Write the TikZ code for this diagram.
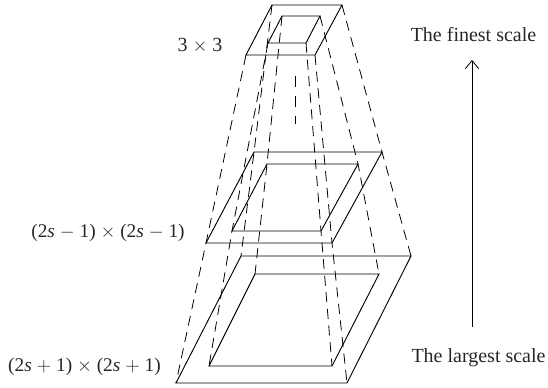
\documentclass[tikz,border=0pt]{standalone}
\usepackage{amsmath}
\usepackage{fontspec}
\setmainfont{Liberation Serif}
\usetikzlibrary{arrows.meta,positioning,calc}
\tikzset{
  frame/.style={draw, line width=0.7pt, line join=miter},
  link/.style={draw, line width=0.6pt, dash pattern=on 7.5pt off 5pt},
  scalelabel/.style={font=\fontsize{15}{17}\selectfont, text=black!85, inner sep=0pt},
  sizelabel/.style={scalelabel, font=\fontsize{14.5}{17}\selectfont}
}
\begin{document}
\begin{tikzpicture}[x=0.75pt, y=-0.75pt]
        \useasboundingbox (0,0) rectangle (548,387);

        % Top level
        \coordinate (topOutTL) at (272,5);
        \coordinate (topOutTR) at (342,5);
        \coordinate (topOutBR) at (315,55);
        \coordinate (topOutBL) at (246,55);
        \coordinate (topInTL) at (282,16);
        \coordinate (topInTR) at (320,16);
        \coordinate (topInBR) at (306,43);
        \coordinate (topInBL) at (268,43);
        \draw[frame] (topOutTL) -- (topOutTR) -- (topOutBR) -- (topOutBL) -- cycle;
        \draw[frame] (topInTL) -- (topInTR) -- (topInBR) -- (topInBL) -- cycle;

        % Middle level
        \coordinate (midOutTL) at (254,152);
        \coordinate (midOutTR) at (382,152);
        \coordinate (midOutBR) at (332,243);
        \coordinate (midOutBL) at (206,243);
        \coordinate (midInTL) at (267,164);
        \coordinate (midInTR) at (358,164);
        \coordinate (midInBR) at (321,231);
        \coordinate (midInBL) at (232,231);
        \draw[frame] (midOutTL) -- (midOutTR) -- (midOutBR) -- (midOutBL) -- cycle;
        \draw[frame] (midInTL) -- (midInTR) -- (midInBR) -- (midInBL) -- cycle;

        % Bottom level
        \coordinate (lowOutTL) at (241,256);
        \coordinate (lowOutTR) at (411,256);
        \coordinate (lowOutBR) at (347,383);
        \coordinate (lowOutBL) at (176,383);
        \coordinate (lowInTL) at (255,274);
        \coordinate (lowInTR) at (379,274);
        \coordinate (lowInBR) at (332,366);
        \coordinate (lowInBL) at (209,366);
        \draw[frame] (lowOutTL) -- (lowOutTR) -- (lowOutBR) -- (lowOutBL) -- cycle;
        \draw[frame] (lowInTL) -- (lowInTR) -- (lowInBR) -- (lowInBL) -- cycle;

        % Dashed links
        \draw[link] (topOutTL) -- (midOutTL) -- (lowOutTL);
        \draw[link] (topOutTR) -- (midOutTR) -- (lowOutTR);
        \draw[link] (topOutBR) -- (midOutBR) -- (lowOutBR);
        \draw[link] (topOutBL) -- (midOutBL) -- (lowOutBL);
        \draw[link] (topInTL) -- (midInTL) -- (lowInTL);
        \draw[link] (topInTR) -- (midInTR) -- (lowInTR);
        \draw[link] (topInBR) -- (midInBR) -- (lowInBR);
        \draw[link] (topInBL) -- (midInBL) -- (lowInBL);

        % Dots between levels
        \coordinate (gapA) at (295,76);
        \coordinate (gapB) at (295,124);
        \draw[link, dash pattern=on 8pt off 7pt] (gapA) -- (gapB);

        % Labels
        \node[scalelabel] (sizeTop) at (200,46) {3 $\times$ 3};
        \node[sizelabel] (sizeMid) at (108,233) {(2\textit{s} $-$ 1) $\times$ (2\textit{s} $-$ 1)};
        \node[sizelabel] (sizeLow) at (84.5,367) {(2\textit{s} $+$ 1) $\times$ (2\textit{s} $+$ 1)};
        \node[scalelabel] (finest) at (473.5,35) {The finest scale};
        \node[scalelabel] (largest) at (478.5,358) {The largest scale};

        % Scale arrow
        \coordinate (arrowLow) at (472,327);
        \coordinate (arrowTop) at (472,60);
        \draw[-{Straight Barb[length=6pt,width=10pt]}, line width=0.6pt] (arrowLow) -- (arrowTop);
\end{tikzpicture}
\end{document}
